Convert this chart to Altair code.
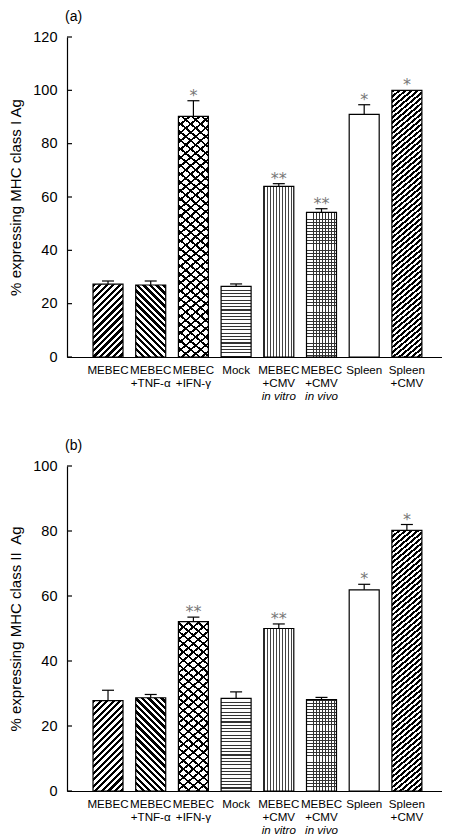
import math
import altair as alt
import pandas as pd

# ---------------- data ----------------
line1 = ["MEBEC", "MEBEC", "MEBEC", "Mock", "MEBEC", "MEBEC", "Spleen", "Spleen"]
line2 = ["", "+TNF-α", "+IFN-γ", "", "+CMV", "+CMV", "", "+CMV"]
line3 = ["", "", "", "", "in vitro", "in vivo", "", ""]

a_values = [27.3, 27.0, 90.2, 26.5, 64.0, 54.2, 91.0, 100.0]
a_errors = [1.2, 1.5, 5.9, 0.9, 1.0, 1.4, 3.6, 0.0]
a_stars = ["", "", "*", "", "**", "**", "*", "*"]
a_ticks = [0, 20, 40, 60, 80, 100, 120]

b_values = [27.8, 28.7, 52.1, 28.5, 50.0, 28.1, 61.9, 80.2]
b_errors = [3.2, 1.0, 1.4, 2.0, 1.4, 0.7, 1.7, 1.8]
b_stars = ["", "", "**", "", "**", "", "*", "*"]
b_ticks = [0, 20, 40, 60, 80, 100]

keys = ["|".join(p for p in (l1, l2, l3) if p) for l1, l2, l3 in zip(line1, line2, line3)]

# ---------------- style ----------------
FONT = "Liberation Sans"
W = 375
BAR_W = 30
# hatch patterns per bar: (normal angle deg, period px, duty, colour)
PATTERNS = [
    [(45, 4.6, 0.5, "black")],                        # MEBEC  ////
    [(-45, 4.6, 0.5, "black")],                       # +TNF   \\\\
    [(50, 6.4, 0.27, "black"), (-50, 6.4, 0.27, "black")],  # +IFN lattice
    [(90, 3.3, 0.33, "#333")],                        # Mock horizontal
    [(0, 3.0, 0.32, "#444")],                         # in vitro vertical
    [(0, 3.1, 0.27, "#333"), (90, 3.1, 0.27, "#333")],  # in vivo grid
    [],                                               # Spleen white
    [(50, 4.0, 0.5, "black")],                        # Spleen+CMV ////
]


def stripes(w, h, theta_deg, period, duty, fg, bg):
    th = math.radians(theta_deg)
    a, b = math.cos(th), math.sin(th)
    if abs(a) < 1e-9:
        a = 0.0
    if abs(b) < 1e-9:
        b = 0.0
    u0 = 0.0 if a >= 0 else 1.0
    v0 = 0.0 if b >= 0 else 1.0
    L = abs(a) * w + abs(b) * h
    D = a * a * w * w + b * b * h * h
    k = L / D
    x2 = u0 + a * w * k
    y2 = v0 + b * h * k
    stops = []
    n = int(math.ceil(L / period))
    for i in range(n):
        o0 = round(min(i * period / L, 1.0), 5)
        o1 = round(min((i + duty) * period / L, 1.0), 5)
        o2 = round(min((i + 1) * period / L, 1.0), 5)
        stops += [
            {"offset": o0, "color": fg},
            {"offset": o1, "color": fg},
            {"offset": o1, "color": bg},
            {"offset": o2, "color": bg},
        ]
    return {"gradient": "linear", "x1": u0, "y1": v0, "x2": x2, "y2": y2, "stops": stops}


xscale = alt.Scale(domain=keys, paddingInner=0.297, paddingOuter=0.54, align=0.564)
xaxis = alt.Axis(
    title=None,
    labelExpr="slice(split(datum.value, '|'), 0, 2)",
    labelFontSize=11.6,
    labelLineHeight=13.5,
    labelAngle=0,
    labelPadding=7,
    ticks=False,
    labelOverlap=False,
    labelBound=False,
    labelFlush=False,
)


def make_panel(values, errors, stars, ticks, ymax, H, title_txt, ytitle):
    df = pd.DataFrame({"key": keys, "value": values, "err": errors, "star": stars, "line3": line3})
    tick_df = pd.DataFrame({"value": ticks})
    yaxis = alt.Axis(
        title=ytitle,
        values=ticks,
        ticks=False,
        labelPadding=10,
        labelFontSize=14.5,
        titleFontSize=15,
        titleFontWeight="normal",
        titlePadding=9,
        grid=False,
    )
    yscale = alt.Scale(domain=[0, ymax], nice=False, zero=True)
    xenc = alt.X("key:N", sort=keys, scale=xscale, axis=xaxis)
    yenc = alt.Y("value:Q", scale=yscale, axis=yaxis)
    ytop = alt.Y("top:Q", scale=yscale, axis=yaxis)

    px = H / ymax
    layers = []
    for i, k in enumerate(keys):
        h = values[i] * px
        sub = alt.Chart(df).transform_filter(alt.FieldEqualPredicate(field="key", equal=k))
        pats = PATTERNS[i]
        if not pats:
            layers.append(sub.mark_bar(width=BAR_W, fill="white", strokeWidth=0).encode(x=xenc, y=yenc))
        for j, (th, per, duty, fg) in enumerate(pats):
            bg = "white" if j == 0 else "rgba(0,0,0,0)"
            g = stripes(BAR_W, h, th, per, duty, fg, bg)
            layers.append(sub.mark_bar(width=BAR_W, fill=g, strokeWidth=0).encode(x=xenc, y=yenc))

    base = alt.Chart(df).transform_calculate(top="datum.value + datum.err")
    layers.append(
        alt.Chart(df).mark_bar(width=BAR_W, fillOpacity=0, stroke="black", strokeWidth=1.2).encode(x=xenc, y=yenc)
    )
    eb = base.transform_filter("datum.err > 0")
    layers.append(eb.mark_rule(color="black", strokeWidth=1.2).encode(x=xenc, y=yenc, y2="top:Q"))
    layers.append(eb.mark_tick(color="black", size=12, thickness=1.2, opacity=1).encode(x=xenc, y=ytop))
    layers.append(
        base.mark_text(font="DejaVu Sans", fontSize=16, color="#777", baseline="alphabetic", dy=0).encode(
            x=xenc, y=ytop, text="star:N"
        )
    )
    layers.append(
        alt.Chart(df)
        .mark_text(font=FONT, fontSize=11.6, fontStyle="italic", baseline="top", color="black")
        .encode(x=xenc, y=alt.value(H + 7 + 27), text="line3:N")
    )
    layers.append(
        alt.Chart(tick_df).mark_rule(color="black", strokeWidth=1.2).encode(y=yenc, x=alt.value(0), x2=alt.value(5))
    )
    return alt.layer(*layers).properties(
        width=W,
        height=H,
        title=alt.TitleParams(
            text=title_txt, anchor="start", frame="group", fontSize=14, fontWeight="normal",
            font=FONT, offset=5, dx=-2, color="black",
        ),
    )


pa = make_panel(a_values, a_errors, a_stars, a_ticks, 120, 320, "(a)", "% expressing MHC class I Ag")
pb = make_panel(b_values, b_errors, b_stars, b_ticks, 100, 325, "(b)", "% expressing MHC class II\u00a0 Ag")

chart = (
    alt.vconcat(pa, pb, spacing=36)
    .properties(padding={"left": 0, "right": 0, "top": 2, "bottom": 0}, background="white")
    .configure_view(stroke=None)
    .configure_axis(
        labelFont=FONT,
        titleFont=FONT,
        labelColor="black",
        titleColor="black",
        domainColor="black",
        domainWidth=1.2,
        grid=False,
    )
)

chart.save("out.html", embed_options={"renderer": "svg", "actions": False})
